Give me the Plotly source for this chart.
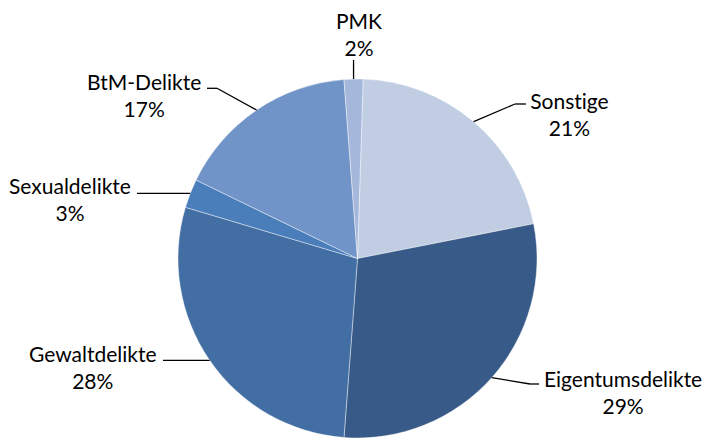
import math
import plotly.graph_objects as go

# ---- data ----
categories = ["Sonstige", "Eigentumsdelikte", "Gewaltdelikte", "Sexualdelikte", "BtM-Delikte", "PMK"]
shares = [21.4, 29.3, 28.4, 2.6, 16.6, 1.7]
colors = ["#c1cde3", "#385a88", "#426ea3", "#4a7ebb", "#7094c7", "#a5b8db"]

# ---- layout (pixels) ----
W, H = 704, 438
CX, CY, R = 357.5, 258.5, 179.5
ROTATION = 1.8
FONT = "Lato"
FSIZE = 21

# label box position, anchor, and leader path (after edge point)
label_cfg = {
    "Sonstige":         dict(x=528, y=113.5, xa="left",   path=[(515, 104), (526, 104)]),
    "Eigentumsdelikte": dict(x=542, y=391.5, xa="left",   path=[(530, 384), (539, 384)]),
    "Gewaltdelikte":    dict(x=159, y=366.5, xa="right",  path=[(163, None)]),
    "Sexualdelikte":    dict(x=133, y=198.5, xa="right",  path=[(137, None)]),
    "BtM-Delikte":      dict(x=203, y=95.5,  xa="right",  path=[(217, 88.3), (207, 88.3)]),
    "PMK":              dict(x=358.7, y=34,  xa="center", path=[(None, 60)]),
}

fig = go.Figure(go.Pie(
    labels=categories,
    values=shares,
    sort=False,
    direction="clockwise",
    rotation=ROTATION,
    marker=dict(colors=colors, line=dict(color="rgba(255,255,255,0.6)", width=0.7)),
    textinfo="none",
    hoverinfo="label+percent",
    domain=dict(x=[(CX - R) / W, (CX + R) / W], y=[(H - CY - R) / H, (H - CY + R) / H]),
    showlegend=False,
))

def px2paper(x, y):
    return x / W, 1 - y / H

total = sum(shares)
cum = 0.0
annotations = []
shapes = []
for cat, v in zip(categories, shares):
    mid = math.radians(ROTATION + 360 * (cum + v / 2) / total)
    cum += v
    ex = CX + R * math.sin(mid)
    ey = CY - R * math.cos(mid)
    cfg = label_cfg[cat]
    pts = [(ex, ey)]
    for (px, py) in cfg["path"]:
        pts.append((ex if px is None else px, ey if py is None else py))
    for (x0, y0), (x1, y1) in zip(pts[:-1], pts[1:]):
        a0 = px2paper(x0, y0)
        a1 = px2paper(x1, y1)
        shapes.append(dict(type="line", xref="paper", yref="paper",
                           x0=a0[0], y0=a0[1], x1=a1[0], y1=a1[1],
                           line=dict(color="#000000", width=1.3)))
    pct = round(v / total * 100)
    ax, ay = px2paper(cfg["x"], cfg["y"])
    annotations.append(dict(
        x=ax, y=ay, xref="paper", yref="paper",
        text=f"{cat}<br>{pct}%", showarrow=False,
        xanchor=cfg["xa"], yanchor="middle", align="center",
        font=dict(family=FONT, size=FSIZE, color="#000000"),
    ))

fig.update_layout(
    width=W, height=H,
    margin=dict(l=0, r=0, t=0, b=0),
    paper_bgcolor="white", plot_bgcolor="white",
    annotations=annotations, shapes=shapes,
)

fig.write_html(
    "out.html",
    config={"displayModeBar": False},
    post_script=(
        "document.body.style.margin='0';"
        "document.body.style.overflow='hidden';"
        "document.querySelectorAll('.main-svg').forEach(function(s){"
        "s.style.fontVariantLigatures='none';s.style.fontFeatureSettings='\"liga\" 0';});"
    ),
)
